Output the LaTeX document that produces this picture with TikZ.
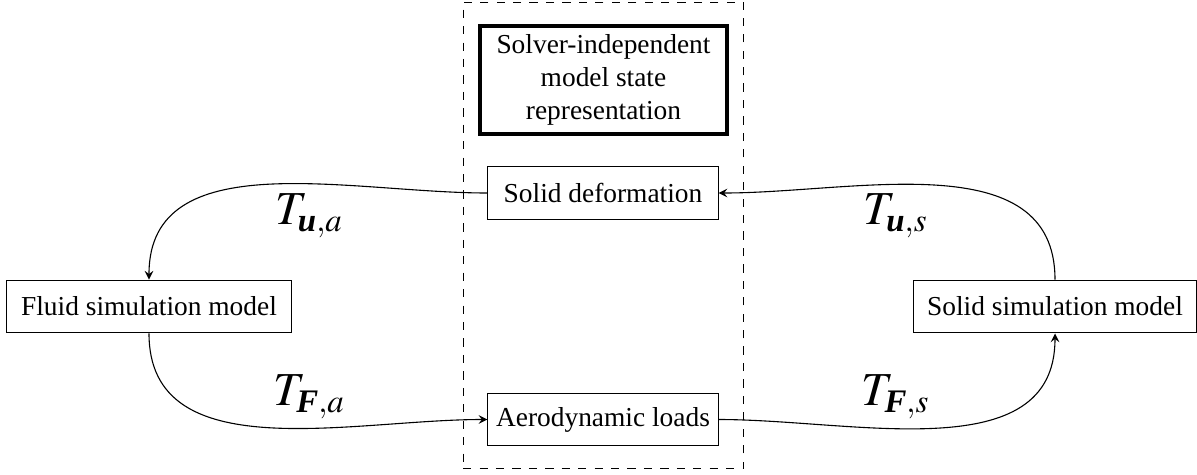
\documentclass[tikz,border=0pt]{standalone}
\usepackage{amsmath}
\usepackage{mathptmx}
\usepackage{fontspec}
\setmainfont{Liberation Serif}
\usetikzlibrary{fit}

\begin{document}
\begin{tikzpicture}[
    x=0.365pt, y=0.365pt,
    >=stealth,
    block/.style={draw, minimum height=19.3pt, inner sep=3pt},
    lbl/.style={font=\LARGE}
]
\useasboundingbox (0,0) rectangle (1197,474);

% shared representation
\node[block, line width=1.5pt, minimum width=90pt, minimum height=39.4pt, align=center] (state) at (603.5,394) {Solver-independent\\model state\\representation};
\node[block, minimum width=84pt] (deform) at (603,281) {Solid deformation};
\node[block, minimum width=84pt] (aero) at (603,54.5) {Aerodynamic loads};

% frame round the solver-independent part
\node[draw, dashed, fit=(state)(deform)(aero), inner xsep=5.5pt, inner ysep=8pt] (frame) {};

% solver models
\node[block, minimum width=103.7pt] (fluid) at (149,167.5) {Fluid simulation model};
\node[block, minimum width=103pt] (solid) at (1055,167.5) {Solid simulation model};

% transfers
\draw[->] (deform.west) to[out=180,in=90]
    node[pos=0.4, below, lbl] {$T_{\text{\bfseries\itshape u},a}$} (fluid.north);
\draw[->] (fluid.south) to[out=-90,in=180]
    node[pos=0.6, above, lbl] {$T_{\text{\bfseries\itshape F},a}$} (aero.west);
\draw[->] (aero.east) to[out=0,in=-90]
    node[pos=0.4, above, lbl] {$T_{\text{\bfseries\itshape F},s}$} (solid.south);
\draw[->] (solid.north) to[out=90,in=0]
    node[pos=0.6, below, lbl] {$T_{\text{\bfseries\itshape u},s}$} (deform.east);

\end{tikzpicture}
\end{document}
